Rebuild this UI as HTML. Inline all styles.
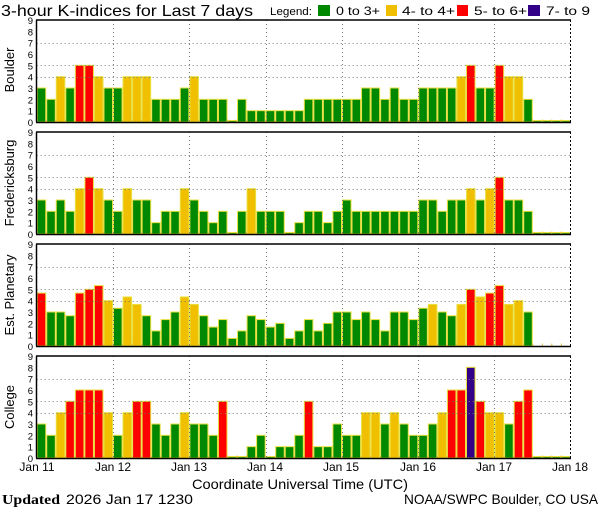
<!DOCTYPE html>
<html><head><meta charset="utf-8"><style>
html,body{margin:0;padding:0;background:#fff;}
svg{display:block;font-family:"Liberation Sans",sans-serif;}
</style></head><body>
<svg id="s" width="600" height="510" viewBox="0 0 600 510" xmlns="http://www.w3.org/2000/svg">
<rect width="600" height="510" fill="#fff"/>
<text x="1" y="16" font-size="16" textLength="252" lengthAdjust="spacingAndGlyphs">3-hour K-indices for Last 7 days</text>
<text x="270" y="15" font-size="11" textLength="42" lengthAdjust="spacingAndGlyphs">Legend:</text>
<rect x="318" y="5" width="12" height="11" fill="#008800"/>
<text x="336" y="15" font-size="12" textLength="44" lengthAdjust="spacingAndGlyphs">0 to 3+</text>
<rect x="386" y="5" width="11" height="11" fill="#f0c000"/>
<text x="402" y="15" font-size="12" textLength="53" lengthAdjust="spacingAndGlyphs">4- to 4+</text>
<rect x="457" y="5" width="11" height="11" fill="#ff0000"/>
<text x="474" y="15" font-size="12" textLength="53" lengthAdjust="spacingAndGlyphs">5- to 6+</text>
<rect x="528" y="5" width="12" height="11" fill="#330088"/>
<text x="546" y="15" font-size="12" textLength="44" lengthAdjust="spacingAndGlyphs">7- to 9</text>
<g id="panels"></g>
<g font-size="12" text-anchor="middle">
<text x="37" y="471">Jan 11</text><text x="113" y="471">Jan 12</text><text x="189" y="471">Jan 13</text><text x="265" y="471">Jan 14</text><text x="341" y="471">Jan 15</text><text x="418" y="471">Jan 16</text><text x="494" y="471">Jan 17</text><text x="570" y="471">Jan 18</text>
</g>
<text x="300" y="489" font-size="14" text-anchor="middle" textLength="216" lengthAdjust="spacingAndGlyphs">Coordinate Universal Time (UTC)</text>
<text x="2" y="504" font-size="14" font-family="Liberation Serif,serif" font-weight="bold" textLength="58" lengthAdjust="spacingAndGlyphs">Updated</text>
<text x="66" y="504" font-size="14" textLength="127" lengthAdjust="spacingAndGlyphs">2026 Jan 17 1230</text>
<text x="404" y="504" font-size="14" textLength="194" lengthAdjust="spacingAndGlyphs">NOAA/SWPC Boulder, CO USA</text>
<g font-size="13" text-anchor="middle">
<text transform="translate(14,70) rotate(-90)">Boulder</text>
<text transform="translate(14,183) rotate(-90)">Fredericksburg</text>
<text transform="translate(14,295) rotate(-90)">Est. Planetary</text>
<text transform="translate(14,407) rotate(-90)">College</text>
</g>
<g font-size="9.5" text-anchor="end" id="yl"></g>
</svg>
<script>
var data=[
[3,2,4,3,5,5,4,3,3,4,4,4,2,2,2,3,4,2,2,2,0,2,1,1,1,1,1,1,2,2,2,2,2,2,3,3,2,3,2,2,3,3,3,3,4,5,3,3,5,4,4,2,0,0,0,0],
[3,2,3,2,4,5,4,3,2,4,3,3,1,2,2,4,3,2,1,2,0,2,4,2,2,2,0,1,2,2,1,2,3,2,2,2,2,2,2,2,3,3,2,3,3,4,3,4,5,3,3,2,0,0,0,0],
[4.67,3,3,2.67,4.67,5,5.33,4,3.33,4.33,3.67,2.67,1.33,2.33,3,4.33,3.67,2.67,1.67,2.33,0.67,1.33,2.67,2.33,1.67,2,0.67,1.33,2.33,1.33,2,3,3,2.33,3,2.33,1.33,3,3,2.33,3.33,3.67,3,2.67,3.67,5,4.33,4.67,5.33,3.67,4,3,null,null,null,null],
[3,2,4,5,6,6,6,4,2,4,5,5,3,2,3,4,3,3,2,5,0,0,1,2,0,1,1,2,5,1,1,3,2,2,4,4,3,4,3,2,2,3,4,6,6,8,5,4,4,3,5,6,0,0,0,0]];
var T=[20,132,244,356],x0=36.7,bw=9.54,u=102/9,ns="http://www.w3.org/2000/svg";
var g=document.getElementById('panels'),yl=document.getElementById('yl');
function el(n,a){var e=document.createElementNS(ns,n);for(var k in a)e.setAttribute(k,a[k]);return e;}
function col(v){if(v>=6.67)return'#330088';if(v>=4.67)return'#ff0000';if(v>=3.67)return'#f0c000';return'#008800';}
for(var p=0;p<4;p++){
 var t=T[p],b=t+102;
 for(var i=0;i<56;i++){var v=data[p][i];if(v===null)continue;
  var h=v*u;if(h<2)h=v==0?1.5:h;
  var x=x0+i*bw;
  g.appendChild(el('rect',{x:x+0.5,y:b-h,width:bw-1,height:h,fill:col(v),stroke:'#e8e040','stroke-width':1}));}
 for(var i=1;i<56;i++){var x=x0+i*bw;g.appendChild(el('line',{x1:x,x2:x,y1:b-2.5,y2:b,stroke:'#e8c040','stroke-width':1}));}
 [4,5,7].forEach(function(l){var y=Math.round(b-l*u)+0.5;g.appendChild(el('line',{x1:x0,x2:570,y1:y,y2:y,stroke:'#777','stroke-width':1,'stroke-dasharray':'1,3'}));});
 for(var d=1;d<7;d++){var x=Math.round(x0+d*76.3)+0.5;g.appendChild(el('line',{x1:x,x2:x,y1:t,y2:b,stroke:'#777','stroke-width':1,'stroke-dasharray':'1,3'}));}
 g.appendChild(el('line',{x1:570.5,x2:570.5,y1:t,y2:b,stroke:'#000','stroke-width':1,'stroke-dasharray':'2,2'}));
 g.appendChild(el('line',{x1:36,x2:571,y1:t,y2:t,stroke:'#000','stroke-width':1.5}));
 g.appendChild(el('line',{x1:36,x2:571,y1:b+0.5,y2:b+0.5,stroke:'#000','stroke-width':1.5}));
 g.appendChild(el('line',{x1:36.5,x2:36.5,y1:t,y2:b,stroke:'#000','stroke-width':1.5}));
 for(var l=0;l<10;l++){var tx=el('text',{x:33,y:b-l*u+4});tx.textContent=l;yl.appendChild(tx);}
}
</script>
</body></html>
